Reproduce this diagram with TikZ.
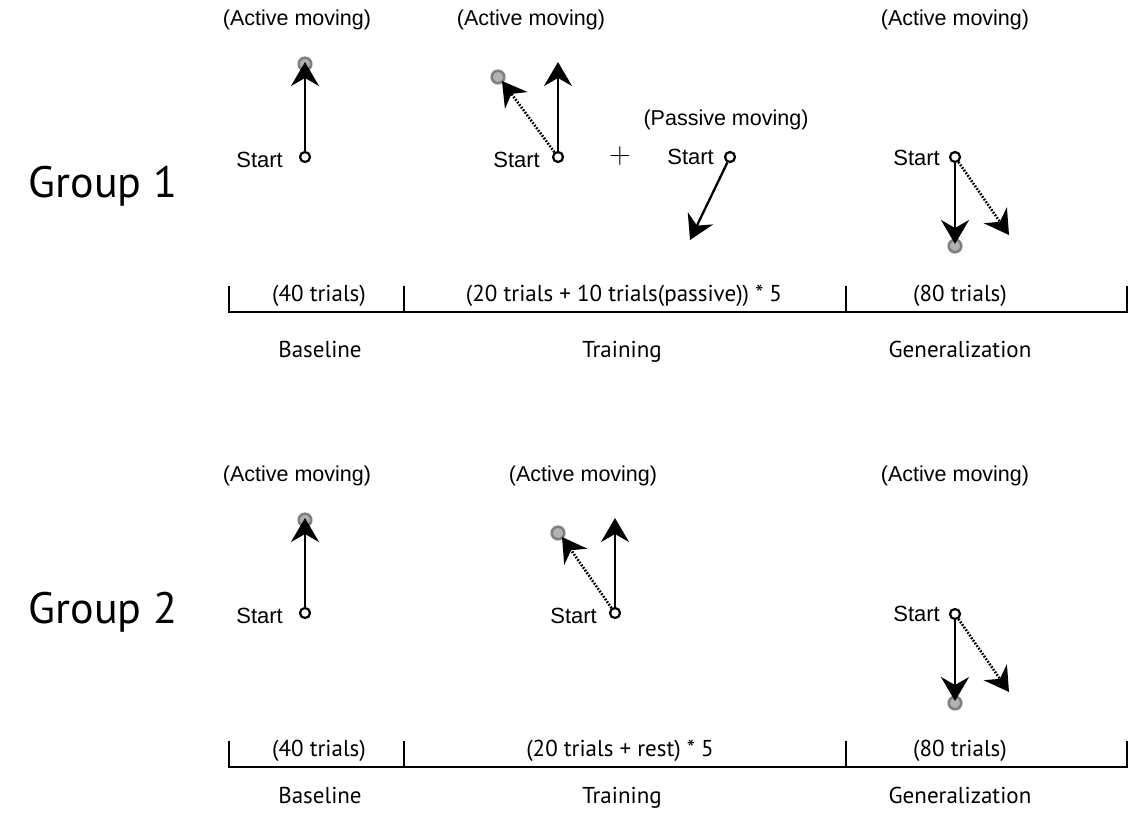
\documentclass[tikz,border=0pt]{standalone}
\usepackage{fontspec}
\setmainfont{Liberation Sans}
\newfontfamily\phasefont{PT Sans}
\newfontfamily\plusfont{Latin Modern Roman}
\usetikzlibrary{arrows.meta}

\begin{document}
\begin{tikzpicture}[x=1pt,y=-1pt,
  lbl/.style={font=\fontsize{21.5}{24}\selectfont, inner sep=0pt},
  startlbl/.style={font=\fontsize{22}{24}\selectfont, inner sep=0pt, anchor=east},
  phase/.style={font=\phasefont\fontsize{23}{26}\selectfont, inner sep=0pt},
  stage/.style={phase, anchor=base},
  grp/.style={font=\phasefont\fontsize{44}{50}\selectfont, inner sep=0pt},
  origin/.style={circle, draw=black, fill=white, line width=2.2pt, minimum size=10pt, inner sep=0pt},
  target/.style={circle, draw=gray, fill=gray!60, line width=2.6pt, minimum size=12.5pt, inner sep=0pt},
  move/.style={line width=2.3pt, -{Stealth[length=24pt,width=28pt,inset=8pt]}},
  hint/.style={move, line width=2.6pt, dash pattern=on 1.7pt off 1.5pt},
  axis/.style={line width=2.4pt},
]
\useasboundingbox (0,0) rectangle (1131,812);

% ---------------- Group 1 ----------------
\node[grp] (g1) at (103,186) {Group 1};

% Baseline
\node[lbl] (b1lab) at (297,20) {(Active moving)};
\node[target] (b1t) at (305,64) {};
\coordinate (b1tip) at (305,62);
\node[origin] (b1s) at (305,157) {};
\node[startlbl] (b1st) at (283,160) {Start};
\draw[move] (b1s) -- (b1tip);

% Training (active)
\node[lbl] (t1lab) at (531,20) {(Active moving)};
\node[target] (t1t) at (498,77) {};
\coordinate (t1tip) at (502,81);
\coordinate (t1up) at (558,62);
\node[origin] (t1s) at (558,157) {};
\node[startlbl] (t1st) at (540,160) {Start};
\draw[hint] (t1s) -- (t1tip);
\draw[move] (t1s) -- (t1up);

\node[font=\plusfont\fontsize{30}{32}\selectfont, inner sep=0pt] (plus) at (620,156) {+};

% Training (passive)
\node[lbl] (p1lab) at (726,120) {(Passive moving)};
\node[origin] (p1s) at (730,157) {};
\node[startlbl] (p1st) at (714,157) {Start};
\coordinate (p1tip) at (690,240);
\draw[move] (p1s) -- (p1tip);

% Generalization
\node[lbl] (e1lab) at (955,20) {(Active moving)};
\node[target] (e1t) at (955,246) {};
\coordinate (e1tip) at (955,244);
\coordinate (e1side) at (1009,235);
\node[origin] (e1s) at (955,157) {};
\node[startlbl] (e1st) at (940,158) {Start};
\draw[hint] (e1s) -- (e1side);
\draw[move] (e1s) -- (e1tip);

% Timeline
\coordinate (a1l) at (229,312);
\coordinate (a1r) at (1127,312);
\coordinate (k1a) at (229,286);
\coordinate (k1b) at (404,286);
\coordinate (k1bb) at (404,312);
\coordinate (k1c) at (846,286);
\coordinate (k1cc) at (846,312);
\coordinate (k1d) at (1127,286);
\draw[axis] (k1a) -- (a1l) -- (a1r) -- (k1d);
\draw[axis] (k1b) -- (k1bb);
\draw[axis] (k1c) -- (k1cc);
\node[phase] (n1a) at (319,296) {(40 trials)};
\node[phase] (n1b) at (624,296) {(20 trials + 10 trials(passive)) * 5};
\node[phase] (n1c) at (960,296) {(80 trials)};
\node[stage] (h1a) at (320,357) {Baseline};
\node[stage] (h1b) at (622,357) {Training};
\node[stage] (h1c) at (960,357) {Generalization};

% ---------------- Group 2 ----------------
\node[grp] (g2) at (103,612) {Group 2};

% Baseline
\node[lbl] (b2lab) at (297,476) {(Active moving)};
\node[target] (b2t) at (305,520) {};
\coordinate (b2tip) at (305,518);
\node[origin] (b2s) at (305,613) {};
\node[startlbl] (b2st) at (283,616) {Start};
\draw[move] (b2s) -- (b2tip);

% Training
\node[lbl] (t2lab) at (583,476) {(Active moving)};
\node[target] (t2t) at (558,533) {};
\coordinate (t2tip) at (562,537);
\coordinate (t2up) at (615,518);
\node[origin] (t2s) at (615,613) {};
\node[startlbl] (t2st) at (597,616) {Start};
\draw[hint] (t2s) -- (t2tip);
\draw[move] (t2s) -- (t2up);

% Generalization
\node[lbl] (e2lab) at (955,476) {(Active moving)};
\node[target] (e2t) at (955,703) {};
\coordinate (e2tip) at (955,701);
\coordinate (e2side) at (1009,692);
\node[origin] (e2s) at (955,614) {};
\node[startlbl] (e2st) at (940,614) {Start};
\draw[hint] (e2s) -- (e2side);
\draw[move] (e2s) -- (e2tip);

% Timeline
\coordinate (a2l) at (229,767);
\coordinate (a2r) at (1127,767);
\coordinate (k2a) at (229,741);
\coordinate (k2b) at (404,741);
\coordinate (k2bb) at (404,767);
\coordinate (k2c) at (846,741);
\coordinate (k2cc) at (846,767);
\coordinate (k2d) at (1127,741);
\draw[axis] (k2a) -- (a2l) -- (a2r) -- (k2d);
\draw[axis] (k2b) -- (k2bb);
\draw[axis] (k2c) -- (k2cc);
\node[phase] (n2a) at (319,751) {(40 trials)};
\node[phase] (n2b) at (620,751) {(20 trials + rest) * 5};
\node[phase] (n2c) at (960,751) {(80 trials)};
\node[stage] (h2a) at (320,803) {Baseline};
\node[stage] (h2b) at (622,803) {Training};
\node[stage] (h2c) at (960,803) {Generalization};
\end{tikzpicture}
\end{document}
